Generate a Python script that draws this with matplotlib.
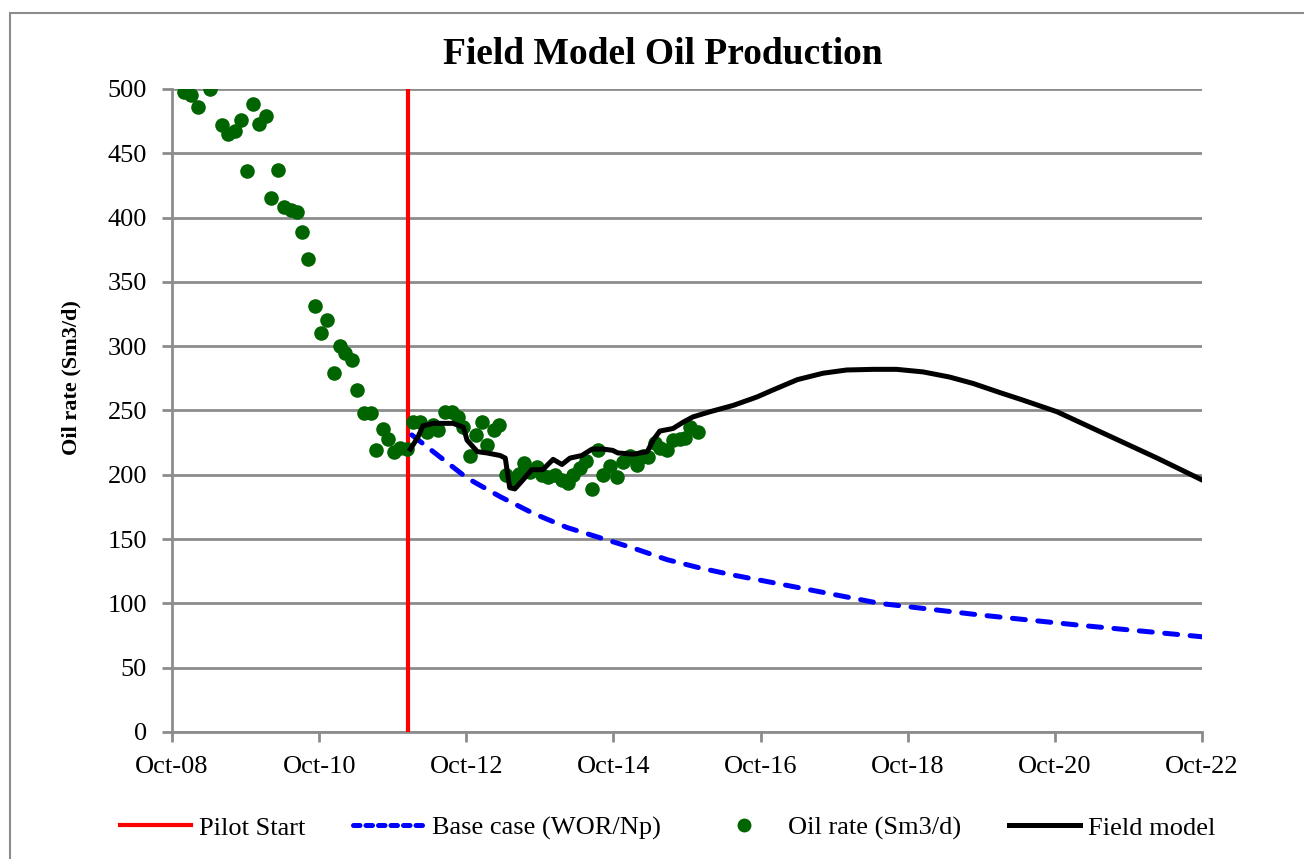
import numpy as np
import matplotlib
matplotlib.use('Agg')
import matplotlib.pyplot as plt
from matplotlib.patches import Rectangle
from matplotlib.lines import Line2D

plt.rcParams['font.family'] = ['Liberation Serif', 'DejaVu Serif']

# x values are decimal years (Oct-08 = 2008.75)
tick_pos = [2008.75, 2010.75, 2012.75, 2014.75, 2016.75, 2018.75, 2020.75, 2022.75]
tick_lab = ['Oct-08', 'Oct-10', 'Oct-12', 'Oct-14', 'Oct-16', 'Oct-18', 'Oct-20', 'Oct-22']

pilot_start = 2011.96

# measured oil rate (Sm3/d), time in years after Oct-08
oil_t = [0.16, 0.26, 0.35, 0.52, 0.68, 0.76, 0.86, 0.94, 1.02, 1.10, 1.18, 1.28,
         1.35, 1.44, 1.52, 1.62, 1.70, 1.77, 1.85, 1.94, 2.03, 2.11, 2.20, 2.28,
         2.35, 2.45, 2.52, 2.61, 2.70, 2.77, 2.87, 2.94, 3.02, 3.10, 3.19, 3.28,
         3.37, 3.47, 3.55, 3.62, 3.71, 3.80, 3.89, 3.96, 4.05, 4.13, 4.21, 4.28,
         4.37, 4.45, 4.54, 4.64, 4.71, 4.79, 4.87, 4.96, 5.03, 5.11, 5.21, 5.30,
         5.38, 5.45, 5.55, 5.63, 5.71, 5.79, 5.86, 5.95, 6.05, 6.13, 6.23, 6.32,
         6.40, 6.47, 6.57, 6.63, 6.73, 6.81, 6.90, 6.97, 7.04, 7.15]
oil_rate = [498, 495, 486, 500, 472, 465, 467, 476, 436, 488, 473, 479,
            415, 437, 408, 406, 404, 389, 368, 331, 310, 320, 279, 300,
            295, 289, 266, 248, 248, 219, 236, 228, 218, 221, 220, 241,
            241, 233, 239, 235, 249, 249, 245, 237, 215, 231, 241, 223,
            235, 239, 200, 197, 201, 209, 202, 206, 200, 198, 200, 196,
            194, 200, 205, 211, 189, 219, 200, 207, 198, 210, 215, 208,
            215, 214, 225, 221, 219, 227, 228, 229, 237, 233]

# base case (WOR/Np)
base_t = [3.26, 3.64, 4.01, 4.46, 4.91, 5.37, 5.82, 6.27, 6.73, 7.18, 7.63, 8.09,
          8.54, 9.62, 10.98, 12.34, 14.01]
base_rate = [231, 214, 197.5, 183, 170, 159, 151, 143, 134, 127.5, 122, 117,
             112, 100, 91, 83, 74]

# field model
fm_t = [3.24, 3.34, 3.41, 3.55, 3.82, 3.96, 4.01, 4.15, 4.28, 4.46, 4.53, 4.59,
        4.66, 4.77, 4.89, 5.04, 5.18, 5.30, 5.41, 5.57, 5.71, 5.86, 5.99, 6.06,
        6.27, 6.46, 6.54, 6.63, 6.81, 6.95, 7.08, 7.31, 7.63, 7.95, 8.17, 8.50,
        8.85, 9.17, 9.53, 9.85, 10.21, 10.57, 10.89, 11.25, 11.57, 12.03, 12.71,
        13.39, 14.0]
fm_rate = [220, 229, 238, 240, 240, 237, 227, 218, 217, 215, 213, 190,
           189, 196, 204, 204, 212, 208, 213, 215, 220, 220, 219, 217,
           216, 218, 227, 234, 236, 241, 245, 249, 254, 260.5, 266, 274,
           279, 281.5, 282, 282, 280, 276, 271, 264, 258, 249, 231,
           213, 196]

x0 = 2008.75
oil_x = [x0 + t for t in oil_t]
base_x = [x0 + t for t in base_t]
fm_x = [x0 + t for t in fm_t]

fig = plt.figure(figsize=(13.04, 8.59), dpi=100)
ax = fig.add_axes([172/1304, 1 - 732/859, (1202-172)/1304, (732-89)/859])

grid_c = '#8c8c8c'
ax.set_xlim(tick_pos[0], tick_pos[-1])
ax.set_ylim(0, 500)
ax.set_yticks(range(0, 501, 50))
ax.set_xticks(tick_pos)
ax.set_xticklabels(tick_lab)
ax.yaxis.grid(True, color=grid_c, linewidth=2)
ax.set_axisbelow(True)
for s in ['top', 'right']:
    ax.spines[s].set_visible(False)
for s in ['left', 'bottom']:
    ax.spines[s].set_color(grid_c)
    ax.spines[s].set_linewidth(2)
ax.tick_params(axis='both', colors=grid_c, width=2, length=7, labelsize=19,
               labelcolor='black')
ax.tick_params(axis='y', pad=11)
ax.tick_params(axis='x', pad=10)

ax.axvline(pilot_start, color='red', linewidth=3, zorder=3)
ax.plot(base_x, base_rate, color='blue', linewidth=3.6, dashes=(2.6, 2.5),
        dash_capstyle='round', zorder=4)
ax.scatter(oil_x, oil_rate, s=110, color='#006400', zorder=5, linewidths=0)
ax.plot(fm_x, fm_rate, color='black', linewidth=3.6, zorder=6)

ax.set_ylabel('Oil rate (Sm3/d)', fontsize=16, fontweight='bold')
ax.yaxis.set_label_coords(-(172 - 81) / 1030, 0.552)
fig.text(0.508, 1 - 55/859, 'Field Model Oil Production', ha='center', va='center',
         fontsize=27, fontweight='bold')

handles = [
    Line2D([], [], color='red', linewidth=3),
    Line2D([], [], color='blue', linewidth=3.6, dashes=(1.3, 1.2), dash_capstyle='round'),
    Line2D([], [], color='#006400', marker='o', linestyle='none', markersize=9),
    Line2D([], [], color='black', linewidth=3.6),
]
labels = ['Pilot Start', 'Base case (WOR/Np)', 'Oil rate (Sm3/d)', 'Field model']
fig.legend(handles, labels, loc='center', bbox_to_anchor=(0.512, 1 - 828/859),
           ncol=4, frameon=False, fontsize=19, handlelength=2.7, columnspacing=1.8,
           handletextpad=0.3)

fig.patches.append(Rectangle((10/1304, -0.05), 1.2, 1 - 13/859 + 0.05,
                             transform=fig.transFigure, fill=False,
                             edgecolor=grid_c, linewidth=1.5))

fig.savefig('out.png', dpi=100)
